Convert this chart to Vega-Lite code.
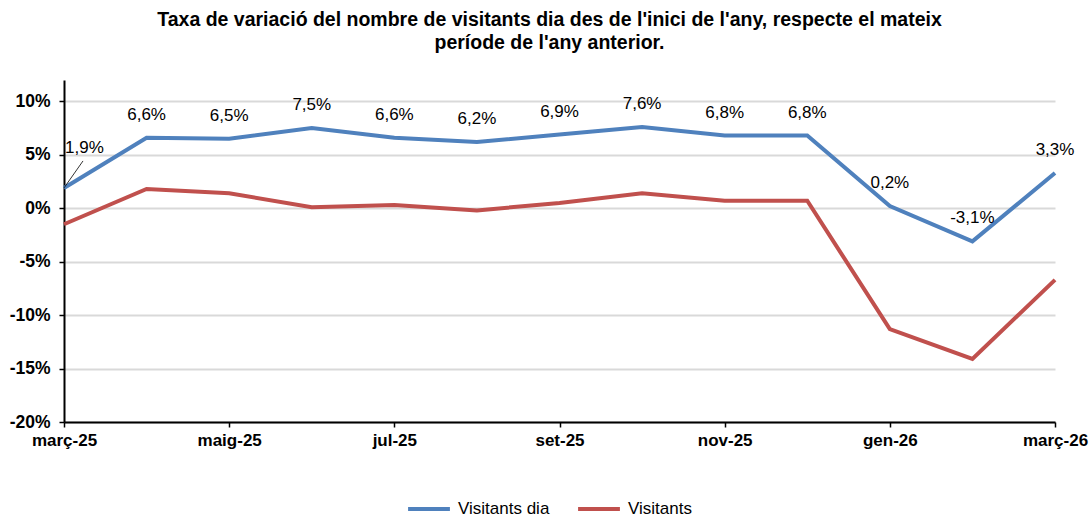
{
  "$schema": "https://vega.github.io/schema/vega-lite/v6.json",
  "autosize": "none",
  "width": 991,
  "height": 342,
  "padding": {"left": 64, "top": 80, "right": 37, "bottom": 98},
  "background": "white",
  "title": {
    "text": ["Taxa de variació del nombre de visitants dia des de l'inici  de l'any, respecte el mateix", "període de l'any anterior."],
    "font": "Liberation Sans",
    "fontSize": 19.5,
    "fontWeight": "bold",
    "color": "#000000",
    "lineHeight": 23,
    "anchor": "middle",
    "dx": -10,
    "offset": 27
  },
  "config": {
    "view": {"stroke": null},
    "font": "Liberation Sans"
  },
  "data": {
    "values": [
      {"mes": "març-25", "serie": "Visitants dia", "valor": 1.9},
      {"mes": "abr-25", "serie": "Visitants dia", "valor": 6.6},
      {"mes": "maig-25", "serie": "Visitants dia", "valor": 6.5},
      {"mes": "juny-25", "serie": "Visitants dia", "valor": 7.5},
      {"mes": "jul-25", "serie": "Visitants dia", "valor": 6.6},
      {"mes": "ag-25", "serie": "Visitants dia", "valor": 6.2},
      {"mes": "set-25", "serie": "Visitants dia", "valor": 6.9},
      {"mes": "oct-25", "serie": "Visitants dia", "valor": 7.6},
      {"mes": "nov-25", "serie": "Visitants dia", "valor": 6.8},
      {"mes": "des-25", "serie": "Visitants dia", "valor": 6.8},
      {"mes": "gen-26", "serie": "Visitants dia", "valor": 0.2},
      {"mes": "febr-26", "serie": "Visitants dia", "valor": -3.1},
      {"mes": "març-26", "serie": "Visitants dia", "valor": 3.3},
      {"mes": "març-25", "serie": "Visitants", "valor": -1.5},
      {"mes": "abr-25", "serie": "Visitants", "valor": 1.8},
      {"mes": "maig-25", "serie": "Visitants", "valor": 1.4},
      {"mes": "juny-25", "serie": "Visitants", "valor": 0.1},
      {"mes": "jul-25", "serie": "Visitants", "valor": 0.3},
      {"mes": "ag-25", "serie": "Visitants", "valor": -0.2},
      {"mes": "set-25", "serie": "Visitants", "valor": 0.5},
      {"mes": "oct-25", "serie": "Visitants", "valor": 1.4},
      {"mes": "nov-25", "serie": "Visitants", "valor": 0.7},
      {"mes": "des-25", "serie": "Visitants", "valor": 0.7},
      {"mes": "gen-26", "serie": "Visitants", "valor": -11.3},
      {"mes": "febr-26", "serie": "Visitants", "valor": -14.1},
      {"mes": "març-26", "serie": "Visitants", "valor": -6.7}
    ]
  },
  "encoding": {
    "x": {
      "field": "mes",
      "type": "ordinal",
      "sort": null,
      "scale": {"type": "point", "padding": 0},
      "axis": {
        "title": null,
        "grid": false,
        "values": ["març-25", "maig-25", "jul-25", "set-25", "nov-25", "gen-26", "març-26"],
        "labelAngle": 0,
        "labelFont": "Liberation Sans",
        "labelFontSize": 17,
        "labelFontWeight": "bold",
        "labelColor": "#000000",
        "labelPadding": 5,
        "labelFlush": false,
        "labelOverlap": false,
        "domainColor": "#000000",
        "domainWidth": 2,
        "tickColor": "#000000",
        "tickSize": 5,
        "tickWidth": 1.5,
        "ticks": true
      }
    },
    "y": {
      "field": "valor",
      "type": "quantitative",
      "scale": {"domain": [-20, 12], "nice": false, "zero": false},
      "axis": {
        "title": null,
        "values": [-20, -15, -10, -5, 0, 5, 10],
        "labelExpr": "datum.value + '%'",
        "labelFont": "Liberation Sans",
        "labelFontSize": 17.5,
        "labelFontWeight": "bold",
        "labelColor": "#000000",
        "labelPadding": 9,
        "grid": true,
        "gridColor": "#d9d9d9",
        "gridWidth": 2,
        "domainColor": "#000000",
        "domainWidth": 2,
        "tickColor": "#000000",
        "tickSize": 5,
        "tickWidth": 1.5
      }
    }
  },
  "layer": [
    {
      "mark": {"type": "line", "strokeWidth": 4, "strokeCap": "butt"},
      "encoding": {
        "color": {
          "field": "serie",
          "type": "nominal",
          "scale": {"domain": ["Visitants dia", "Visitants"], "range": ["#4F81BD", "#C0504D"]},
          "legend": {
            "title": null,
            "orient": "none",
            "direction": "horizontal",
            "legendX": 342,
            "legendY": 406,
            "symbolType": "stroke",
            "symbolStrokeWidth": 4,
            "symbolSize": 1750,
            "labelFont": "Liberation Sans",
            "labelFontSize": 17,
            "labelColor": "#000000",
            "columnPadding": 20,
            "labelOffset": 6
          }
        }
      }
    },
    {
      "transform": [
        {"filter": "datum.serie == 'Visitants dia' && datum.mes == 'març-25'"}
      ],
      "mark": {"type": "rule", "color": "#000000", "strokeWidth": 0.8, "x2Offset": 19, "y2Offset": -27},
      "encoding": {
        "x2": {"field": "mes"},
        "y2": {"field": "valor"}
      }
    },
    {
      "transform": [
        {"filter": "datum.serie == 'Visitants dia' && datum.mes != 'març-25'"},
        {"calculate": "replace(datum.valor + '', '.', ',') + '%'", "as": "lab"}
      ],
      "mark": {"type": "text", "dy": -23, "font": "Liberation Sans", "fontSize": 17, "color": "#000000", "baseline": "middle"},
      "encoding": {"text": {"field": "lab"}}
    },
    {
      "transform": [
        {"filter": "datum.serie == 'Visitants dia' && datum.mes == 'març-25'"},
        {"calculate": "replace(datum.valor + '', '.', ',') + '%'", "as": "lab"}
      ],
      "mark": {"type": "text", "dx": 1, "dy": -40, "align": "left", "font": "Liberation Sans", "fontSize": 17, "color": "#000000", "baseline": "middle"},
      "encoding": {"text": {"field": "lab"}}
    }
  ]
}
